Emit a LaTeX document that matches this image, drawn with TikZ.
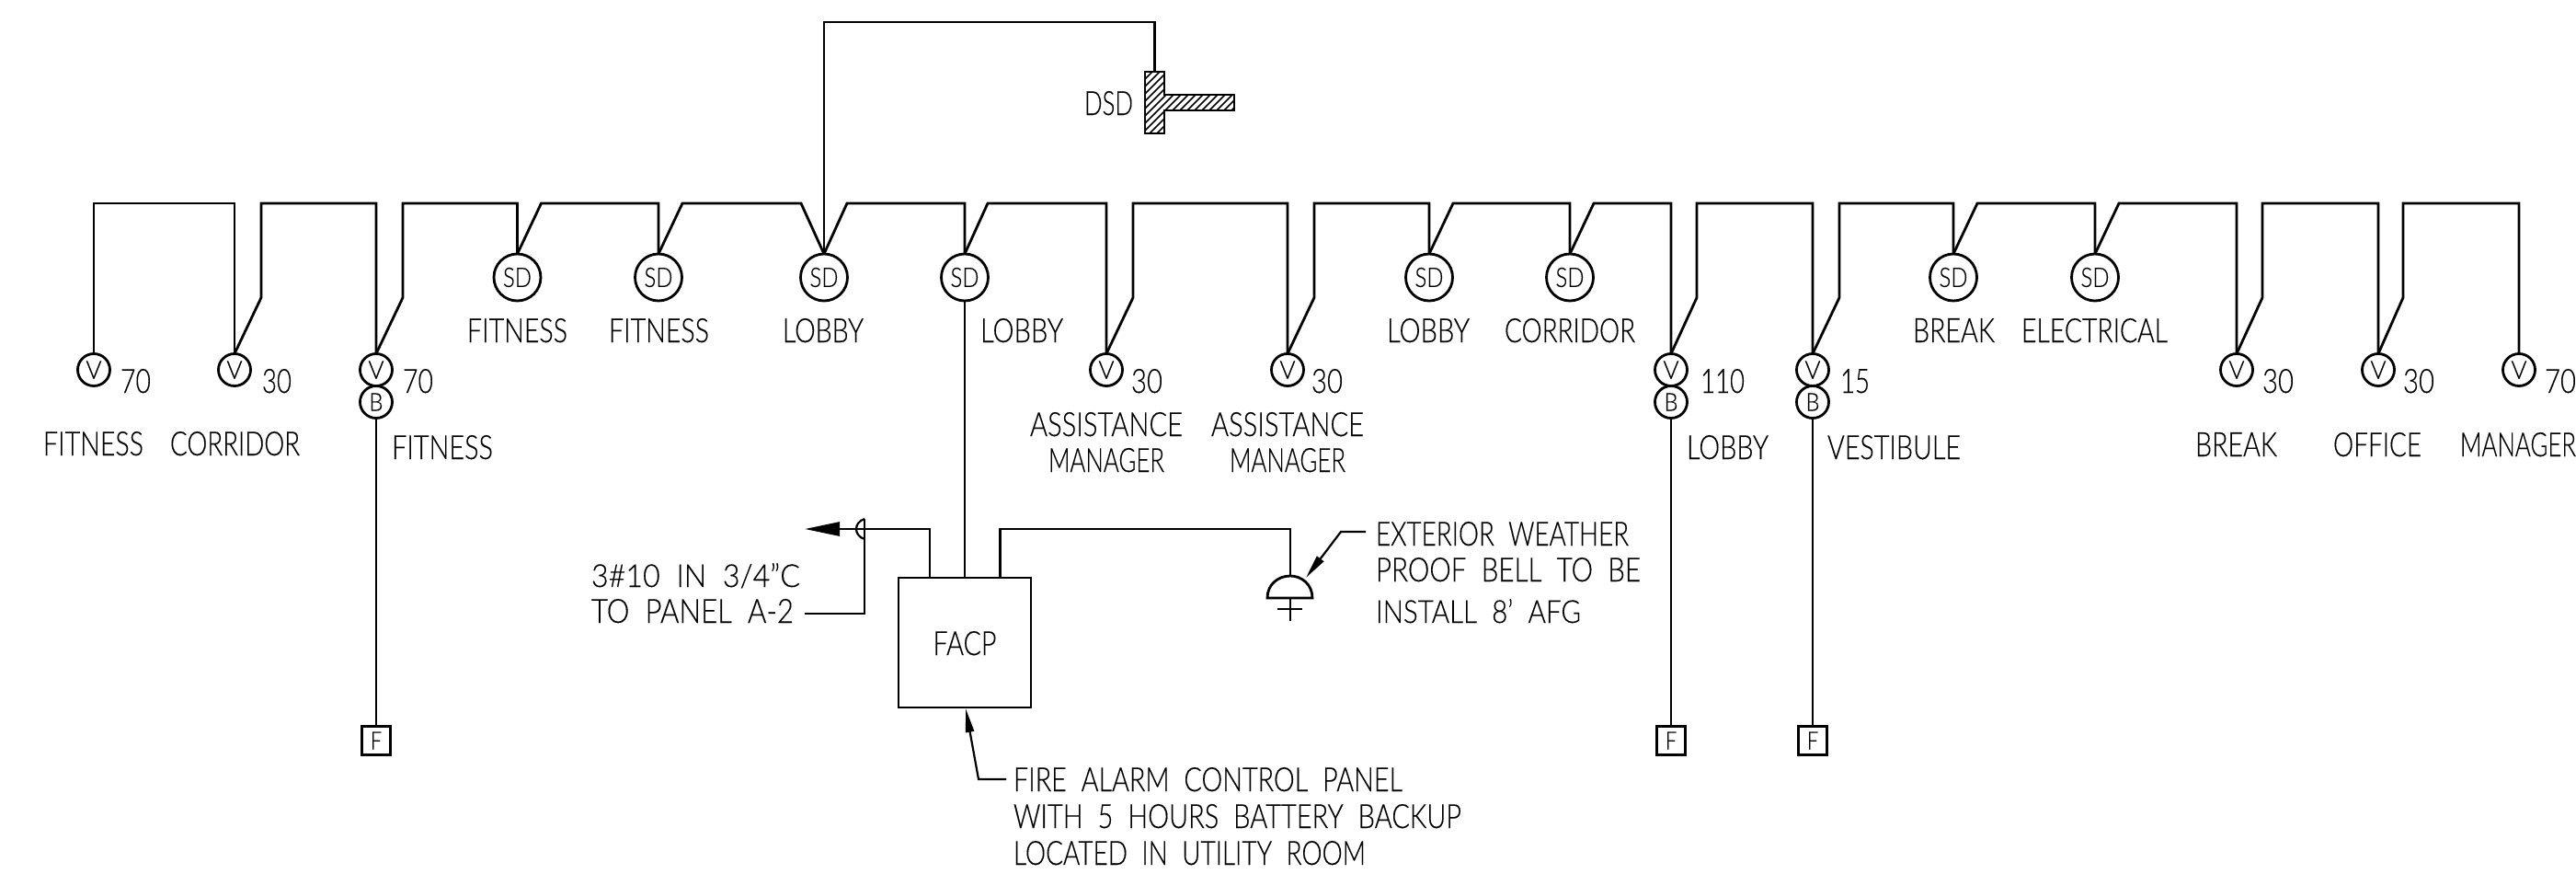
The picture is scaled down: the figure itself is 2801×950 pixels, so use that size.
\documentclass[tikz,border=0pt]{standalone}
\usepackage{fontspec}
\setmainfont[FakeBold=0.25]{Lato Light}
\usetikzlibrary{arrows.meta,calc}
\newcommand{\cadtext}[3][26]{\resizebox{#2pt}{#1pt}{\fontsize{36}{40}\selectfont\spaceskip=0.55em\relax #3}}
\tikzset{
  wire/.style={line width=2.8pt,line join=miter},
  lbl/.style={inner sep=0pt,outer sep=0pt,anchor=base},
  devv/.style={circle,draw,line width=2.8pt,inner sep=0pt,outer sep=0pt,minimum size=35pt},
  devs/.style={circle,draw,line width=2.8pt,inner sep=0pt,outer sep=0pt,minimum size=51pt},
  fbox/.style={rectangle,draw,line width=2.8pt,inner sep=0pt,outer sep=0pt,minimum size=31pt},
  panel/.style={rectangle,draw,line width=2.8pt,inner sep=0pt,outer sep=0pt,minimum width=144pt,minimum height=141pt},
  lead/.style={line width=2.2pt,-{Triangle[length=26pt,width=9pt]}}
}
\newcommand{\vsym}{\cadtext[19]{17}{V}}
\newcommand{\bsym}{\cadtext[19]{15}{B}}
\newcommand{\sdsym}{\cadtext[21]{31}{SD}}
\newcommand{\fsym}{\cadtext[19]{12}{F}}
\begin{document}
\begin{tikzpicture}[x=1pt,y=-1pt]
\useasboundingbox (0,0) rectangle (2801,950);
\coordinate (bus) at (0,221);
\coordinate (top) at (0,24);
% V devices
\foreach \n/\x in {v1/102,v2/255,v3/409,v4/1203,v5/1400,v6/1817,v7/1971,v8/2432,v9/2586,v10/2739}
  \node[devv] (\n) at (\x,402) {\vsym};
% B devices
\foreach \n/\x in {b3/409,b6/1817,b7/1971}
  \node[devv] (\n) at (\x,437) {\bsym};
% SD devices
\foreach \n/\x in {sd1/562.5,sd2/716,sd3/896,sd4/1049,sd5/1554,sd6/1707,sd7/2124,sd8/2278}
  \node[devs] (\n) at (\x,301.5) {\sdsym};
% F boxes
\foreach \n/\x in {f3/409,f6/1817,f7/1971}
  \node[fbox] (\n) at (\x,805) {\fsym};
% FACP
\node[panel] (facp) at (1049,698.5) {};
\node[lbl] (facptxt) at (1049,712) {\cadtext{69}{FACP}};
% bus
\draw[wire] (v1.north) |- (v2.north |- bus) -- (v2.north);
\draw[wire] (v2.north) -- ++(29,-61) |- (v3.north |- bus) -- (v3.north);
\draw[wire] (v3.north) -- ++(29,-61) |- (sd1.north |- bus) -- (sd1.north);
\draw[wire] (sd1.north) -- ++(26,-55) -- (sd2.north |- bus) -- (sd2.north);
\draw[wire] (sd2.north) -- ++(26,-55) -- ($(sd3.north |- bus)+(-25,0)$) -- (sd3.north);
\draw[wire] (sd3.north) -- ++(25,-55) -- (sd4.north |- bus) -- (sd4.north);
\draw[wire] (sd4.north) -- ++(25,-55) -| (v4.north);
\draw[wire] (v4.north) -- ++(29,-61) |- (v5.north |- bus) -- (v5.north);
\draw[wire] (v5.north) -- ++(29,-61) |- (sd5.north |- bus) -- (sd5.north);
\draw[wire] (sd5.north) -- ++(26,-55) -- (sd6.north |- bus) -- (sd6.north);
\draw[wire] (sd6.north) -- ++(26,-55) -| (v6.north);
\draw[wire] (v6.north) -- ++(28,-61) |- (v7.north |- bus) -- (v7.north);
\draw[wire] (v7.north) -- ++(29,-61) |- (sd7.north |- bus) -- (sd7.north);
\draw[wire] (sd7.north) -- ++(26,-55) -- (sd8.north |- bus) -- (sd8.north);
\draw[wire] (sd8.north) -- ++(26,-55) -| (v8.north);
\draw[wire] (v8.north) -- ++(28,-61) |- (v9.north |- bus) -- (v9.north);
\draw[wire] (v9.north) -- ++(27,-61) |- (v10.north |- bus) -- (v10.north);
% drops
\draw[wire] (b3.south) -- (f3.north);
\draw[wire] (b6.south) -- (f6.north);
\draw[wire] (b7.south) -- (f7.north);
\draw[wire] (sd4.south) -- (facp.north);
% DSD
\node[inner sep=0pt,outer sep=0pt,minimum width=21pt,minimum height=67pt] (dsd) at (1255.5,111.5) {};
\draw[wire] (sd3.north) |- (top -| dsd.north) -- (dsd.north);
\begin{scope}
  \clip (1245,78) -- (1266,78) -- (1266,103) -- (1342,103) -- (1342,120) -- (1266,120) -- (1266,145) -- (1245,145) -- cycle;
  \foreach \k in {0,1,...,30} \draw[line width=1.5pt] ({1160+8*\k},155) -- ++(90,-90);
\end{scope}
\draw[wire] (1245,78) -- (1266,78) -- (1266,103) -- (1342,103) -- (1342,120) -- (1266,120) -- (1266,145) -- (1245,145) -- cycle;
\node[lbl] (dsdt) at (1205.5,125) {\cadtext{53}{DSD}};
% panel feed
\coordinate (tip) at (875,575);
\coordinate (feed) at (1011,628);
\draw[wire,-{Triangle[length=38pt,width=15pt]}] (feed) |- (tip);
\draw[line width=2.2pt] (940,564) .. controls (928,568) and (928,582) .. (940,586);
\coordinate (cond) at (940,564);
\draw[line width=2.2pt] (cond) -- (940,667) -- (875,667);
% bell
\coordinate (bell) at (1403,626);
\coordinate (bellout) at (1087.5,628);
\draw[wire] (bellout) |- (1403,575) -- (bell);
\draw[wire] (1378,650) .. controls (1378,635) and (1390,626) .. (bell) .. controls (1415,626) and (1427,635) .. (1427,650) -- cycle;
\draw[wire] (1403,650) -- (1403,675) (1389,662) -- (1416,662);
% leaders
\coordinate (bellld) at (1485,578);
\draw[lead] (bellld) -- (1458,578) -- (1420,628);
\coordinate (facpld) at (1094,847);
\draw[lead] (facpld) -- (1064,847) -- (1050,770);
% labels
\foreach \n/\x/\w/\t in {a1/147.5/33/70,a2/301/32/30,a3/454.5/33/70,a4/1247/34/30,a5/1443/34/30,a6/1873/48/110,a7/2017/32/15,a8/2477/34/30,a9/2630/34/30,a10/2784/34/70}
  \node[lbl] (\n) at (\x,427) {\cadtext{\w}{\t}};
\foreach \n/\x/\w/\t in {s1/562.5/109/FITNESS,s2/716.5/109/FITNESS,s3/895/88/LOBBY,s4/1111/90/LOBBY,s5/1553/90/LOBBY,s6/1707/142/CORRIDOR,s7/2124.5/89/BREAK,s8/2277.5/159/ELECTRICAL}
  \node[lbl] (\n) at (\x,372) {\cadtext{\w}{\t}};
\node[lbl] (l1) at (101.5,495) {\cadtext{109}{FITNESS}};
\node[lbl] (l2) at (255.5,495) {\cadtext{141}{CORRIDOR}};
\node[lbl] (l3) at (481,499) {\cadtext{110}{FITNESS}};
\node[lbl] (l4) at (1878.5,499) {\cadtext{89}{LOBBY}};
\node[lbl] (l5) at (2059.5,499) {\cadtext{145}{VESTIBULE}};
\node[lbl] (l6) at (2431.5,496) {\cadtext{89}{BREAK}};
\node[lbl] (l7) at (2585,496) {\cadtext{96}{OFFICE}};
\node[lbl] (l8) at (2738,496) {\cadtext{126}{MANAGER}};
\node[lbl] (m1) at (1203,474) {\cadtext{166}{ASSISTANCE}};
\node[lbl] (m2) at (1203,513) {\cadtext{126}{MANAGER}};
\node[lbl] (m3) at (1400,474) {\cadtext{166}{ASSISTANCE}};
\node[lbl] (m4) at (1400,513) {\cadtext{126}{MANAGER}};
\node[lbl] (n1) at (756.5,638) {\cadtext{227}{3\#10 IN 3/4"C}};
\node[lbl] (n2) at (753,677) {\cadtext{220}{TO PANEL A-2}};
\node[lbl] (n3) at (1633.5,593) {\cadtext{275}{EXTERIOR WEATHER}};
\node[lbl] (n4) at (1640,632) {\cadtext{288}{PROOF BELL TO BE}};
\node[lbl] (n5) at (1607.5,677) {\cadtext{223}{INSTALL 8' AFG}};
\node[lbl] (n6) at (1313.5,860) {\cadtext{423}{FIRE ALARM CONTROL PANEL}};
\node[lbl] (n7) at (1345.5,900) {\cadtext{487}{WITH 5 HOURS BATTERY BACKUP}};
\node[lbl] (n8) at (1293.5,940) {\cadtext{383}{LOCATED IN UTILITY ROOM}};
\end{tikzpicture}
\end{document}
